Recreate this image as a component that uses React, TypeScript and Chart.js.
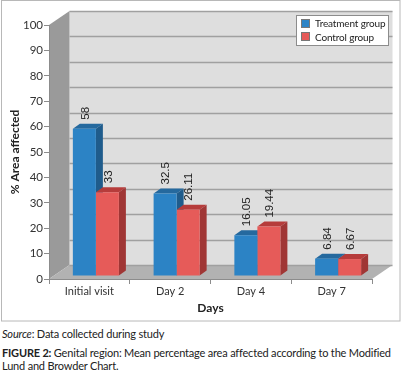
import React, { useEffect, useRef } from "react";
import { Chart, registerables } from "chart.js";

Chart.register(...registerables);

const categories = ["Initial visit", "Day 2", "Day 4", "Day 7"];
const treatment = [58, 32.5, 16.05, 6.84];
const control = [33, 26.11, 19.44, 6.67];
const treatmentLabels = ["58", "32.5", "16.05", "6.84"];
const controlLabels = ["33", "26.11", "19.44", "6.67"];

const DX = 7, DY = 5; // bar depth
const WX = 20.5, WY = 14; // wall depth
const SHIFT_X = 6.5, SHIFT_Y = -3; // where the bars sit on the floor
const sides = [
  { top: "#25699e", side: "#1f5c8c" },
  { top: "#b63c3b", side: "#a03635" },
];

function poly(ctx: CanvasRenderingContext2D, pts: number[][], fill: string) {
  ctx.beginPath();
  pts.forEach((p, i) => (i ? ctx.lineTo(p[0], p[1]) : ctx.moveTo(p[0], p[1])));
  ctx.closePath();
  ctx.fillStyle = fill;
  ctx.fill();
}

const scene = {
  id: "scene",
  beforeDraw(chart: any) {
    const { ctx, chartArea: a, scales } = chart;
    ctx.save();
    ctx.fillStyle = "#ffffff";
    ctx.fillRect(0, 0, chart.width, chart.height);
    ctx.strokeStyle = "#b8b8b8";
    ctx.lineWidth = 1;
    ctx.strokeRect(1.5, 0.5, 398.5, 320.5);
    const L = a.left, R = a.right, T = a.top, B = a.bottom;
    poly(ctx, [[L + WX, T - WY], [R + WX, T - WY], [R + WX, B - WY], [L + WX, B - WY]], "#dedede");
    poly(ctx, [[L, T], [L + WX, T - WY], [L + WX, B - WY], [L, B]], "#9a9a9a");
    poly(ctx, [[L, B], [L + WX, B - WY], [R + WX, B - WY], [R, B]], "#b2b2b2");
    ctx.strokeStyle = "#a0a0a0";
    ctx.lineWidth = 1.4;
    scales.y.ticks.forEach((t: any) => {
      const y = Math.round(scales.y.getPixelForValue(t.value) - WY) + 0.5;
      ctx.beginPath();
      ctx.moveTo(L + WX, y);
      ctx.lineTo(R + WX, y);
      ctx.stroke();
    });
    // legend
    ctx.lineWidth = 1;
    ctx.fillStyle = "#ffffff";
    ctx.strokeStyle = "#8c8c8c";
    ctx.fillRect(296, 15, 92, 30);
    ctx.strokeRect(296.5, 15.5, 92, 30);
    chart.data.datasets.forEach((d: any, i: number) => {
      const y = 19 + i * 13.3;
      ctx.fillStyle = d.backgroundColor;
      ctx.fillRect(301, y, 8.5, 8.5);
      ctx.strokeStyle = "#777";
      ctx.strokeRect(301.5, Math.round(y) + 0.5, 8, 8);
      ctx.fillStyle = "#222";
      ctx.font = "10px Lato";
      (ctx as any).letterSpacing = "-0.15px";
      ctx.textAlign = "left";
      ctx.textBaseline = "middle";
      ctx.fillText(d.label, 315, y + 5);
    });
    ctx.restore();
  },
  beforeDatasetDraw(chart: any, args: any) {
    const { ctx } = chart;
    ctx.save();
    ctx.translate(SHIFT_X, SHIFT_Y);
    // The second series is painted first, so both series' depth goes down here.
    if (args.index === 1) {
      [0, 1].forEach((k) => {
        const c = sides[k];
        chart.getDatasetMeta(k).data.forEach((b: any) => {
          const l = b.x - b.width / 2, r = b.x + b.width / 2;
          poly(ctx, [[l, b.y], [l + DX, b.y - DY], [r + DX, b.y - DY], [r, b.y]], c.top);
          poly(ctx, [[r, b.y], [r + DX, b.y - DY], [r + DX, b.base - DY], [r, b.base]], c.side);
        });
      });
    }
  },
  afterDatasetDraw(chart: any) {
    chart.ctx.restore();
  },
  afterDatasetsDraw(chart: any) {
    const { ctx } = chart;
    [treatmentLabels, controlLabels].forEach((labels, i) => {
      chart.getDatasetMeta(i).data.forEach((b: any, j: number) => {
        ctx.save();
        ctx.translate(b.x + SHIFT_X + 1, b.y + SHIFT_Y - 9);
        ctx.rotate(-Math.PI / 2);
        ctx.font = "11.5px 'Liberation Sans'";
        ctx.fillStyle = "#222";
        ctx.textAlign = "left";
        ctx.textBaseline = "middle";
        ctx.fillText(labels[j], 0, 0);
        ctx.restore();
      });
    });
  },
};

export default function App() {
  const ref = useRef<HTMLCanvasElement>(null);
  useEffect(() => {
    document.body.style.margin = "0";
    const chart = new Chart(ref.current!, {
      type: "bar",
      data: {
        labels: categories,
        datasets: [
          { label: "Treatment group", data: treatment, backgroundColor: "#2c83c5", clip: false },
          { label: "Control group", data: control, backgroundColor: "#e65b59", clip: false },
        ],
      } as any,
      options: {
        animation: false,
        responsive: false,
        layout: { padding: { left: 8, right: 31, top: 25, bottom: 3 } },
        datasets: { bar: { categoryPercentage: 0.57, barPercentage: 1, borderWidth: 0 } },
        plugins: {
          tooltip: { enabled: false },
          legend: { display: false },
        },
        scales: {
          x: {
            afterFit: (s: any) => { s.height = 43; },
            grid: { offset: true, drawOnChartArea: false, color: "#8c8c8c", tickLength: 5 },
            border: { color: "#8c8c8c" },
            ticks: { color: "#333", padding: 1, font: { family: "Lato", size: 11 }, maxRotation: 0 },
            title: {
              display: true,
              text: "Days",
              color: "#222",
              font: { family: "Lato", size: 12, weight: "bold" },
              padding: { top: 0, bottom: 7 },
            },
          },
          y: {
            min: 0,
            max: 100,
            afterFit: (s: any) => { s.width = 41; },
            grid: { drawOnChartArea: false, color: "#8c8c8c", tickLength: 5 },
            border: { color: "#8c8c8c" },
            ticks: { stepSize: 10, color: "#333", padding: 1, font: { family: "Lato", size: 11.5 } },
            title: {
              display: true,
              text: "% Area affected",
              color: "#222",
              font: { family: "Lato", size: 12, weight: "bold" },
              padding: 0,
            },
          },
        },
      } as any,
      plugins: [scene],
    });
    return () => chart.destroy();
  }, []);
  const text: React.CSSProperties = {
    position: "absolute",
    left: 2,
    whiteSpace: "nowrap",
    fontFamily: "Lato",
    fontSize: 11,
    letterSpacing: "-0.19px",
    lineHeight: "13px",
    color: "#222",
  };
  return (
    <div style={{ position: "relative", width: 403, height: 371, overflow: "hidden" }}>
      <canvas ref={ref} width={403} height={325} style={{ display: "block" }} />
      <div style={{ ...text, top: 327 }}>
        <i>Source</i>: Data collected during study
      </div>
      <div style={{ ...text, top: 346 }}>
        <b>FIGURE 2:</b> Genital region: Mean percentage area affected according to the Modified
        <br />
        Lund and Browder Chart.
      </div>
    </div>
  );
}
